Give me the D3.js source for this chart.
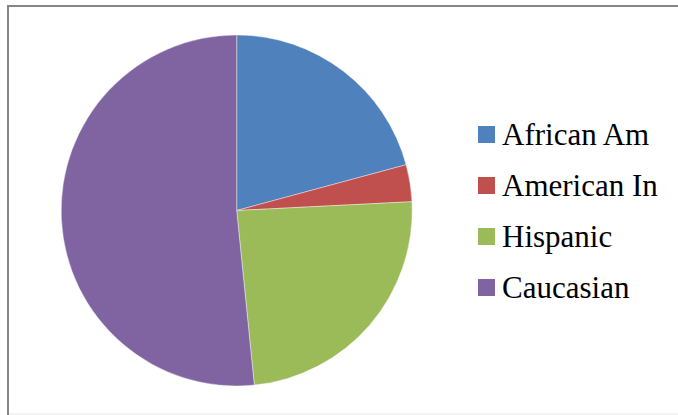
<!DOCTYPE html>
<html>
<head>
<meta charset="utf-8">
<script src="https://cdn.jsdelivr.net/npm/d3@7"></script>
<style>
  html, body { margin: 0; padding: 0; background: #fff; }
  svg { display: block; }
</style>
</head>
<body>
<svg id="pieChart" width="678" height="415"></svg>
<script>
const categories = ["African Am", "American In", "Hispanic", "Caucasian"];
const values = [20.8, 3.4, 24.2, 51.6];
const colors = ["#4F81BD", "#C0504D", "#9BBB59", "#8064A2"];

const data = categories.map((c, i) => ({ name: c, value: values[i] }));

const svg = d3.select("#pieChart");

// chart area frame (cropped on the right)
svg.append("line").attr("x1", 7).attr("y1", 6).attr("x2", 700).attr("y2", 6)
  .attr("stroke", "#868686").attr("stroke-width", 2);
svg.append("line").attr("x1", 8).attr("y1", 5).attr("x2", 8).attr("y2", 415)
  .attr("stroke", "#868686").attr("stroke-width", 2);
svg.append("line").attr("x1", 9).attr("y1", 414).attr("x2", 678).attr("y2", 414)
  .attr("stroke", "#e6e6e6").attr("stroke-width", 1);

const color = d3.scaleOrdinal().domain(categories).range(colors);

const cx = 236.7, cy = 210.5, radius = 175.5;
const pie = d3.pie().value(d => d.value).sort(null);
const arc = d3.arc().innerRadius(0).outerRadius(radius);

svg.append("g")
  .attr("transform", `translate(${cx},${cy})`)
  .selectAll("path")
  .data(pie(data))
  .join("path")
    .attr("d", arc)
    .attr("fill", d => color(d.data.name))
    .attr("stroke", "#fff")
    .attr("stroke-width", 0.4);

// legend
const legend = svg.append("g").attr("transform", "translate(478,126)");
const items = legend.selectAll("g")
  .data(categories)
  .join("g")
    .attr("transform", (d, i) => `translate(0,${i * 51})`);

items.append("rect")
  .attr("width", 17)
  .attr("height", 17)
  .attr("fill", d => color(d));

items.append("text")
  .attr("x", 24)
  .attr("y", 19)
  .style("font-family", "Liberation Serif, DejaVu Serif, serif")
  .style("font-size", "31px")
  .attr("fill", "#000")
  .text(d => d);
</script>
</body>
</html>
